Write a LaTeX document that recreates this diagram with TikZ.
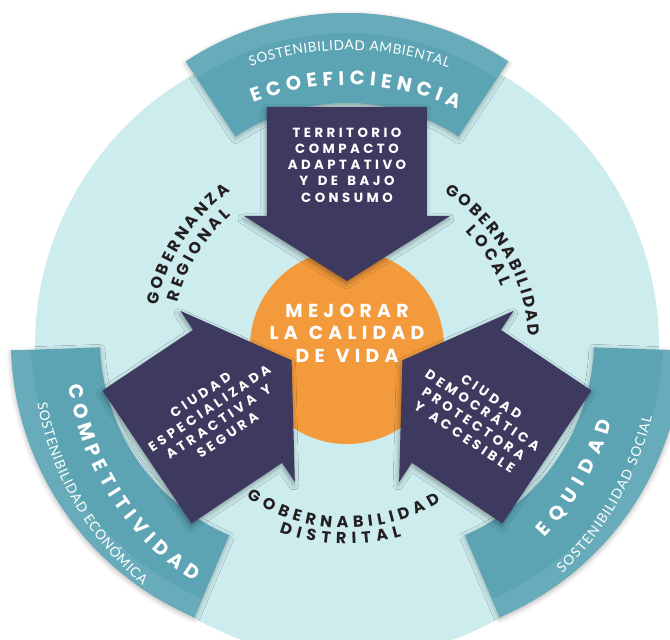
\documentclass[tikz,border=0pt]{standalone}
\usepackage{fontspec}
\setmainfont{Poppins}
\newfontfamily\PBa{Poppins}[LetterSpace=26, WordSpace=1.5]
\newfontfamily\PBc{Poppins}[LetterSpace=28, WordSpace=1.2]
\newfontfamily\PL{Lato}
\usetikzlibrary{decorations.text,shadows.blur}
\definecolor{ringbg}{HTML}{CDECEE}
\definecolor{bandc}{HTML}{5CA4B4}
\definecolor{bandl}{HTML}{68ABBA}
\definecolor{arrowc}{HTML}{3E3A5F}
\definecolor{orangec}{HTML}{F39B3C}
\definecolor{inkc}{HTML}{231F20}
\tikzset{
  bandshape/.style={fill=bandc, blur shadow={shadow xshift=0pt, shadow yshift=-2pt, shadow blur radius=5pt, shadow opacity=30}},
  bandstrip/.style={fill=bandl},
  arrowshape/.style={fill=arrowc, blur shadow={shadow xshift=-1pt, shadow yshift=-3pt, shadow blur radius=5pt, shadow opacity=35}},
  arrowtext/.style={text=white, align=center, font=\PBa\bfseries\fontsize{13.3}{16.2}\selectfont, inner sep=0pt},
  centertext/.style={text=white, align=center, font=\PBc\bfseries\fontsize{18.8}{22.5}\selectfont, inner sep=0pt},
  curvedtext/.style args={#1/#2}{decorate, decoration={text along path, text={|#1|#2}, text align=fit to path}},
}
\newcommand\fB{\bfseries\fontsize{19.5}{19.5}\selectfont\color{white}}
\newcommand\fL{\PL\fontsize{13.6}{13.6}\selectfont\color{white}}
\newcommand\fR{\bfseries\fontsize{16}{16}\selectfont\color{inkc}}
\begin{document}
\begin{tikzpicture}[x=1pt,y=1pt]
\useasboundingbox (-347,-294) rectangle (323,346);
\clip (-347,-294) rectangle (323,346);
% light disc
\fill[ringbg] (0,0) circle (312);
% bands
\begin{scope}[shift={(0,41)}]
  \path[bandshape] (56.5:292) arc[start angle=56.5, end angle=123.5, radius=292] -- (123.5:202) arc[start angle=123.5, end angle=56.5, radius=202] -- cycle;
  \path[bandstrip] (56.5:292) arc[start angle=56.5, end angle=123.5, radius=292] -- (123.5:272) arc[start angle=123.5, end angle=56.5, radius=272] -- cycle;
\end{scope}
\begin{scope}[shift={(-35,6)}]
  \path[bandshape] (182:301) arc[start angle=182, end angle=247, radius=301] -- (247:212) arc[start angle=247, end angle=182, radius=212] -- cycle;
  \path[bandstrip] (182:301) arc[start angle=182, end angle=247, radius=301] -- (247:281) arc[start angle=247, end angle=182, radius=281] -- cycle;
\end{scope}
\begin{scope}[shift={(35,6)}]
  \path[bandshape] (293:301) arc[start angle=293, end angle=358, radius=301] -- (358:212) arc[start angle=358, end angle=293, radius=212] -- cycle;
  \path[bandstrip] (293:301) arc[start angle=293, end angle=358, radius=301] -- (358:281) arc[start angle=358, end angle=293, radius=281] -- cycle;
\end{scope}
% band texts
\path[curvedtext={\fL/SOSTENIBILIDAD AMBIENTAL}] (109:296) arc[start angle=109, end angle=70, radius=296];
\path[curvedtext={\fB/ECOEFICIENCIA}] (111:261) arc[start angle=111, end angle=65, radius=261];
\path[curvedtext={\fB/COMPETITIVIDAD}] (188:281) arc[start angle=188, end angle=237, radius=281];
\path[curvedtext={\fL/SOSTENIBILIDAD ECONÓMICA}] (190.5:315) arc[start angle=190.5, end angle=229.5, radius=315];
\path[curvedtext={\fB/EQUIDAD}] (316:275) arc[start angle=316, end angle=344, radius=275];
\path[curvedtext={\fL/SOSTENIBILIDAD SOCIAL}] (313.5:313) arc[start angle=313.5, end angle=347, radius=313];
% ring labels
\path[curvedtext={\fR/GOBERNANZA}] (168:194) arc[start angle=168, end angle=127, radius=194];
\path[curvedtext={\fR/REGIONAL}] (165.5:175) arc[start angle=165.5, end angle=131.5, radius=175];
\path[curvedtext={\fR/GOBERNABILIDAD}] (57.5:182) arc[start angle=57.5, end angle=3, radius=182];
\path[curvedtext={\fR/LOCAL}] (44:165) arc[start angle=44, end angle=21, radius=165];
\path[curvedtext={\fR/GOBERNABILIDAD}] (236.5:182) arc[start angle=236.5, end angle=301, radius=182];
\path[curvedtext={\fR/DISTRITAL}] (250:198) arc[start angle=250, end angle=286, radius=198];
% centre disc
\fill[orangec] (0,-1) circle (97);
% arrows
\begin{scope}[shift={(0,239)}, rotate=-90]
  \path[arrowshape] (0,-80) -- (109,-80) -- (109,-103) -- (174,0) -- (109,103) -- (109,80) -- (0,80) -- cycle;
\end{scope}
\begin{scope}[shift={(-200,-111)}, rotate=33.8]
  \path[arrowshape] (0,-80) -- (109,-80) -- (109,-103) -- (174,0) -- (109,103) -- (109,80) -- (0,80) -- cycle;
\end{scope}
\begin{scope}[shift={(200,-111)}, rotate=146.2]
  \path[arrowshape] (0,-80) -- (109,-80) -- (109,-103) -- (174,0) -- (109,103) -- (109,80) -- (0,80) -- cycle;
\end{scope}
% texts
\node[arrowtext] (top) at (0,181) {TERRITORIO\\COMPACTO\\ADAPTATIVO\\Y DE BAJO\\CONSUMO};
\node[arrowtext, rotate=33.8] (left) at (-133,-69) {CIUDAD\\ESPECIALIZADA\\ATRACTIVA Y\\SEGURA};
\node[arrowtext, rotate=-33.8] (right) at (131,-71) {CIUDAD\\DEMOCRÁTICA\\PROTECTORA\\Y ACCESIBLE};
\node[centertext] (mid) at (0,13) {MEJORAR\\LA CALIDAD\\DE VIDA};
\end{tikzpicture}
\end{document}
